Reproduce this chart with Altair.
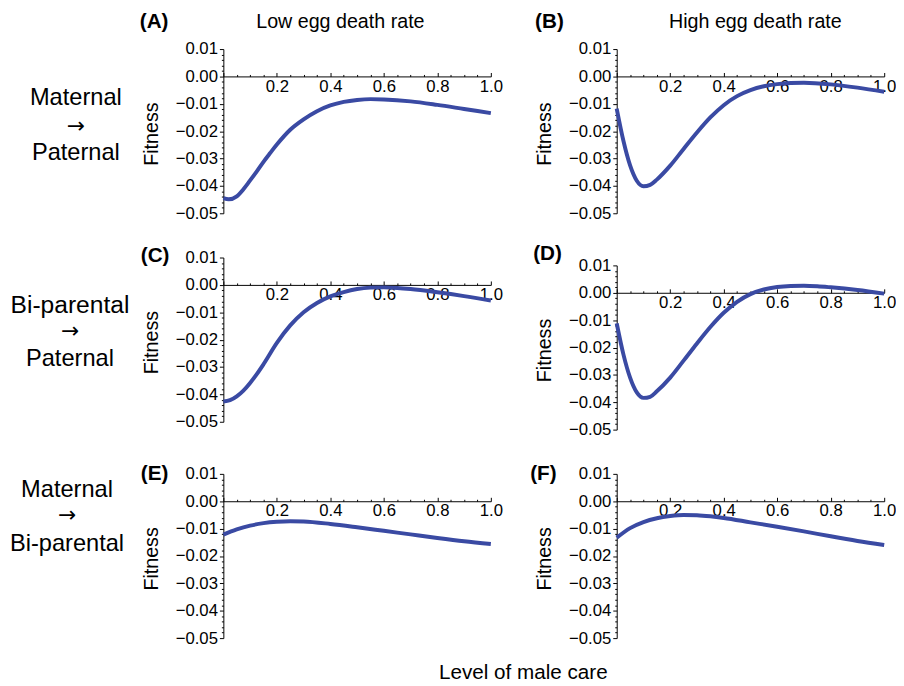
import altair as alt
import pandas as pd

# ---------------- data ----------------
care_A = [0.0, 0.02, 0.05, 0.075, 0.1, 0.125, 0.15, 0.175, 0.2, 0.25, 0.3, 0.35, 0.4, 0.45, 0.5, 0.55, 0.6, 0.7, 0.8, 0.9, 1.0]
fit_A = [-0.0445, -0.0449, -0.0438, -0.0412, -0.0380, -0.0347, -0.0312, -0.0280, -0.0249, -0.0195, -0.0157,
         -0.0127, -0.0106, -0.0093, -0.0086, -0.0083, -0.0084, -0.0091, -0.0104, -0.0119, -0.0134]

care_B = [0.0, 0.025, 0.05, 0.075, 0.1, 0.125, 0.15, 0.2, 0.25, 0.3, 0.35, 0.4, 0.45, 0.5, 0.55, 0.6, 0.65, 0.7, 0.8, 0.9, 1.0]
fit_B = [-0.0118, -0.0235, -0.0325, -0.0381, -0.0401, -0.0396, -0.0377, -0.0326, -0.0265, -0.0205, -0.0150,
         -0.0105, -0.0072, -0.0050, -0.0036, -0.0028, -0.0024, -0.0023, -0.0029, -0.0041, -0.0056]

care_C = [0.0, 0.025, 0.05, 0.075, 0.1, 0.125, 0.15, 0.2, 0.25, 0.3, 0.35, 0.4, 0.45, 0.5, 0.55, 0.6, 0.65, 0.7, 0.8, 0.9, 1.0]
fit_C = [-0.0426, -0.0421, -0.0407, -0.0386, -0.0358, -0.0326, -0.0290, -0.0212, -0.0148, -0.0100, -0.0066,
         -0.0042, -0.0026, -0.0015, -0.0010, -0.0009, -0.0011, -0.0015, -0.0027, -0.0041, -0.0057]

care_D = [0.0, 0.025, 0.05, 0.075, 0.1, 0.125, 0.15, 0.2, 0.25, 0.3, 0.35, 0.4, 0.45, 0.5, 0.55, 0.6, 0.65, 0.7, 0.75, 0.8, 0.9, 1.0]
fit_D = [-0.0112, -0.0225, -0.0310, -0.0364, -0.0384, -0.0380, -0.0360, -0.0310, -0.0248, -0.0185, -0.0125,
         -0.0073, -0.0033, -0.0005, 0.0012, 0.0021, 0.0025, 0.0026, 0.0024, 0.0020, 0.0010, -0.0003]

care_E = [0.0, 0.05, 0.1, 0.15, 0.2, 0.25, 0.3, 0.4, 0.5, 0.6, 0.7, 0.8, 0.9, 1.0]
fit_E = [-0.0122, -0.0103, -0.0089, -0.0080, -0.0075, -0.0073, -0.0074, -0.0083, -0.0095, -0.0108,
         -0.0121, -0.0134, -0.0146, -0.0156]

care_F = [0.0, 0.05, 0.1, 0.15, 0.2, 0.25, 0.3, 0.35, 0.4, 0.5, 0.6, 0.7, 0.8, 0.9, 1.0]
fit_F = [-0.0133, -0.0098, -0.0076, -0.0062, -0.0054, -0.0050, -0.0051, -0.0055, -0.0061, -0.0077,
         -0.0093, -0.0110, -0.0128, -0.0145, -0.0160]

panel_letters = ["(A)", "(B)", "(C)", "(D)", "(E)", "(F)"]
column_titles = ["Low egg death rate", "High egg death rate"]
row_top = ["Maternal", "Bi-parental", "Maternal"]
row_bottom = ["Paternal", "Paternal", "Bi-parental"]
arrow = "\u2192"
y_title = "Fitness"
x_title = "Level of male care"

x_tick_values = [0.0, 0.05, 0.1, 0.15, 0.2, 0.25, 0.3, 0.35, 0.4, 0.45, 0.5,
                 0.55, 0.6, 0.65, 0.7, 0.75, 0.8, 0.85, 0.9, 0.95, 1.0]
y_tick_values = [0.01, 0.008, 0.006, 0.004, 0.002, 0.0, -0.002, -0.004, -0.006, -0.008, -0.01,
                 -0.012, -0.014, -0.016, -0.018, -0.02, -0.022, -0.024, -0.026, -0.028, -0.03,
                 -0.032, -0.034, -0.036, -0.038, -0.04, -0.042, -0.044, -0.046, -0.048, -0.05]

# ---------------- styling ----------------
FONT = "Liberation Sans"
ARROW_FONT = "DejaVu Sans"
LINE_COLOR = "#3a4aa3"
W = 272
H = 167
Y_MIN, Y_MAX = -0.05, 0.01

X_MAJOR = "abs(datum.value * 5 - round(datum.value * 5)) < 0.000001"
Y_MAJOR = "abs(datum.value * 100 - round(datum.value * 100)) < 0.000001"


def text_layer(label, px, py, size, weight="normal", align="center", font=FONT):
    return alt.Chart(pd.DataFrame({"t": [label]})).mark_text(
        font=font, fontSize=size, fontWeight=weight, align=align, baseline="middle", color="black"
    ).encode(text="t:N", x=alt.value(px), y=alt.value(py))


def row_label(i, cx, ys, top_size=24, bottom_size=24):
    return [
        text_layer(row_top[i], cx, ys[0], top_size),
        text_layer(arrow, cx, ys[1], 22, font=ARROW_FONT),
        text_layer(row_bottom[i], cx, ys[2], bottom_size),
    ]


def panel(care, fit, texts, top_off=0):
    height = H + top_off
    zero_y = top_off + H * Y_MAX / (Y_MAX - Y_MIN)
    df = pd.DataFrame({"care": care, "fitness": fit})
    line = alt.Chart(df).mark_line(color=LINE_COLOR, strokeWidth=4, interpolate="monotone").encode(
        x=alt.X(
            "care:Q",
            scale=alt.Scale(domain=[0, 1], nice=False, zero=False),
            axis=alt.Axis(
                orient="top", offset=-zero_y, values=x_tick_values,
                tickSize={"condition": {"test": X_MAJOR, "value": 4}, "value": 2},
                labelExpr=f"({X_MAJOR}) && datum.value > 0.01 ? format(datum.value, '.1f') : ''",
                labelBaseline="top", labelPadding=-6, labelOverlap=False, labelFlush=False,
                labelFont=FONT, labelFontSize=17, labelColor="black",
                domainColor="black", tickColor="black", domainWidth=1, tickWidth=1,
                grid=False, title=None,
            ),
        ),
        y=alt.Y(
            "fitness:Q",
            scale=alt.Scale(domain=[Y_MIN, Y_MAX], range=[height, top_off], nice=False, zero=False),
            axis=alt.Axis(
                values=y_tick_values,
                tickSize={"condition": {"test": Y_MAJOR, "value": 4}, "value": 2},
                labelExpr=f"({Y_MAJOR}) ? replace(format(datum.value, '.2f'), '-', '\u2212') : ''",
                labelPadding=2, labelOverlap=False, labelFlush=False,
                labelFont=FONT, labelFontSize=17, labelColor="black",
                domainColor="black", tickColor="black", domainWidth=1, tickWidth=1,
                grid=False, title=y_title, titleFont=FONT, titleFontSize=20,
                titleFontWeight="normal", titleColor="black",
                titleX=-73, titleY=top_off + 86, titleAlign="center", titleBaseline="middle",
            ),
        ),
    )
    return alt.layer(line, *texts).properties(width=W, height=height)


pA = panel(care_A, fit_A, [
    text_layer(panel_letters[0], -85, -27, 21, "bold", "left"),
    text_layer(column_titles[0], 119, -27, 20),
    *row_label(0, -150, [50, 78, 106]),
])
pB = panel(care_B, fit_B, [
    text_layer(panel_letters[1], -83, -27, 21, "bold", "left"),
    text_layer(column_titles[1], 141, -27, 20),
])
pC = panel(care_C, fit_C, [
    text_layer(panel_letters[2], -84, -1, 21, "bold", "left"),
    *row_label(1, -156, [48, 75, 103], top_size=25),
])
pD = panel(care_D, fit_D, [
    text_layer(panel_letters[3], -85, -4, 21, "bold", "left"),
], top_off=8)
pE = panel(care_E, fit_E, [
    text_layer(panel_letters[4], -84, 0, 21, "bold", "left"),
    *row_label(2, -159, [16, 42, 71]),
    text_layer(x_title, 305, 203, 21),
])
pF = panel(care_F, fit_F, [
    text_layer(panel_letters[5], -88, 0, 21, "bold", "left"),
])

chart = alt.concat(
    pA, pB, pC, pD, pE, pF,
    columns=2, spacing={"row": 45, "column": 128}, bounds="flush", align="each",
).properties(
    padding={"left": 1, "top": -2, "right": 0, "bottom": 0},
    background="white",
).configure_view(stroke=None)

chart.save("out.html", embed_options={"renderer": "svg", "actions": False})
